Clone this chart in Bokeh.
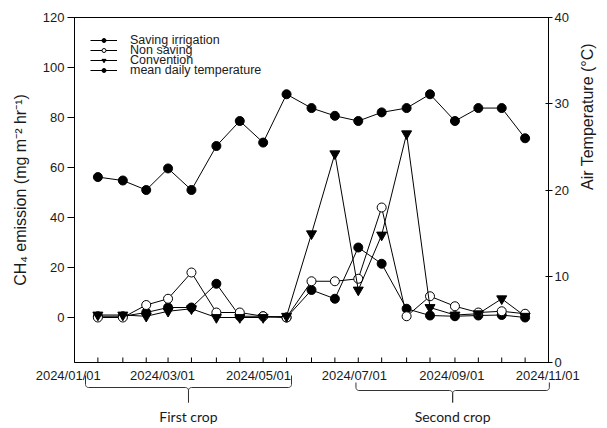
import math
import numpy as np
import pandas as pd
from bokeh.plotting import figure
from bokeh.models import (Range1d, LinearAxis, FixedTicker, Legend, LegendItem)
from bokeh.layouts import column
from bokeh.embed import file_html
from bokeh.resources import INLINE
from bokeh.core.properties import value

# ---------------- data ----------------
sample_dates = ["2024-01-20", "2024-02-05", "2024-02-20", "2024-03-05", "2024-03-20",
                "2024-04-05", "2024-04-20", "2024-05-05", "2024-05-20", "2024-06-05",
                "2024-06-20", "2024-07-05", "2024-07-20", "2024-08-05", "2024-08-20",
                "2024-09-05", "2024-09-20", "2024-10-05", "2024-10-20"]
saving_irrigation = [0.5, 0.5, 2, 4, 4, 13.5, 0.5, 0.5, 0, 11, 7.5, 28, 21.5, 3.5, 0.8, 0.5, 0.8, 1, 0]
non_saving = [0, 0, 5, 7.5, 18, 2, 2, 0.5, 0, 14.5, 14.5, 15.5, 44, 0.5, 8.5, 4.5, 2, 2.5, 1.5]
convention = [1, 1, 0.5, 2.5, 3.5, 0, 0, 0, 0.5, 33.5, 65.5, 11, 33, 73.5, 4, 1, 1.5, 7.5, 0.5]
mean_temperature = [21.5, 21.1, 20.0, 22.5, 20.0, 25.1, 28.0, 25.5, 31.1, 29.5,
                    28.6, 28.0, 29.0, 29.5, 31.1, 28.0, 29.5, 29.5, 26.0]

date_label_dates = ["2024-01-01", "2024-03-01", "2024-05-01", "2024-07-01", "2024-09-01", "2024-11-01"]
date_label_texts = ["2024/01/01", "2024/03/01", "2024/05/01", "2024/07/01", "2024/09/01", "2024/11/01"]

crop_names = ["First crop", "Second crop"]
crop_start = ["2024-01-12", "2024-07-02"]
crop_end = ["2024-05-22", "2024-11-02"]

series_names = ["Saving irrigation", "Non saving", "Convention", "mean daily temperature"]
ch4_ticks = [0, 20, 40, 60, 80, 100, 120]
temp_ticks = [0, 10, 20, 30, 40]

x_start_date = "2024-01-05"
x_end_date = "2024-11-04"


def ms(d):
    return pd.Timestamp(d).value / 1e6


xs = [ms(d) for d in sample_dates]

# ---------------- layout constants ----------------
W = 607
H_MAIN = 370
OVERLAP = 12              # lower panel is pulled up over the main panel's bottom border
H_LOW = 58 + OVERLAP
B_LEFT = 74
B_RIGHT = 55
B_TOP = 17
B_BOTTOM = 8
FONT = "Liberation Sans"
TXT = "#1a1a1a"

x_range = Range1d(ms(x_start_date), ms(x_end_date))
Y0, Y1 = -18, 120

p = figure(width=W, height=H_MAIN, x_range=x_range, y_range=Range1d(Y0, Y1), title=None,
           x_axis_location=None, output_backend="svg", toolbar_location=None,
           min_border_left=B_LEFT, min_border_right=B_RIGHT,
           min_border_top=B_TOP, min_border_bottom=B_BOTTOM)
p.xgrid.visible = False
p.ygrid.visible = False
p.outline_line_color = "black"
p.outline_line_width = 1
p.background_fill_color = "white"
p.border_fill_color = "white"

frame_h = H_MAIN - B_TOP - B_BOTTOM
units_per_px = (Y1 - Y0) / frame_h

# inward tick marks on the bottom edge at every sampling date
p.segment(x0=xs, x1=xs, y0=[Y0] * len(xs), y1=[Y0 + 5 * units_per_px] * len(xs),
          line_color="black", line_width=1)

# left axis
ya = p.yaxis[0]
ya.ticker = FixedTicker(ticks=ch4_ticks)
ya.major_tick_out = 7
ya.major_tick_in = 0
ya.minor_tick_out = 0
ya.minor_tick_in = 0
ya.major_label_standoff = 3
ya.major_label_text_font = FONT
ya.major_label_text_font_size = "13px"
ya.major_label_text_color = TXT
ya.axis_label = "CH\u2084 emission (mg m\u207b\u00b2 hr\u207b\u00b9)"
ya.axis_label_text_font = FONT
ya.axis_label_text_font_style = "normal"
ya.axis_label_text_font_size = "16px"
ya.axis_label_text_color = TXT
ya.axis_label_standoff = 11
ya.axis_line_color = "black"

# right axis (temperature)
p.extra_y_ranges = {"temp": Range1d(0, 40)}
ra = LinearAxis(y_range_name="temp", ticker=FixedTicker(ticks=temp_ticks))
ra.major_tick_out = 4
ra.major_tick_in = 3
ra.minor_tick_out = 0
ra.minor_tick_in = 0
ra.major_label_standoff = 2
ra.major_label_text_font = FONT
ra.major_label_text_font_size = "13px"
ra.major_label_text_color = TXT
ra.axis_label = "Air Temperature (\u00b0C)"
ra.axis_label_text_font = FONT
ra.axis_label_text_font_style = "normal"
ra.axis_label_text_font_size = "16px"
ra.axis_label_text_color = TXT
ra.axis_label_standoff = 16
ra.axis_line_color = "black"
try:
    ra.axis_label_orientation = math.pi / 2
except Exception:
    pass
p.add_layout(ra, "right")

# series
l1 = p.line(xs, saving_irrigation, line_color="black", line_width=1)
s1 = p.scatter(xs, saving_irrigation, marker="circle", size=9, fill_color="black", line_color="black")
l2 = p.line(xs, non_saving, line_color="black", line_width=1)
s2 = p.scatter(xs, non_saving, marker="circle", size=9, fill_color="white", line_color="black", line_width=1)
l3 = p.line(xs, convention, line_color="black", line_width=1)
s3 = p.scatter(xs, convention, marker="inverted_triangle", size=10, fill_color="black", line_color="black")
l4 = p.line(xs, mean_temperature, line_color="black", line_width=1, y_range_name="temp")
s4 = p.scatter(xs, mean_temperature, marker="circle", size=9, fill_color="black", line_color="black",
               y_range_name="temp")

renderer_pairs = [(l1, s1), (l2, s2), (l3, s3), (l4, s4)]
LEG_X = 16           # px from frame left
LEG_Y0 = 315.5       # px from frame bottom (first row's bottom)
LEG_PITCH = 10
for i, (name, (ln, sc)) in enumerate(zip(series_names, renderer_pairs)):
    lg = Legend(items=[LegendItem(label=name, renderers=[ln, sc])],
                location=(LEG_X, LEG_Y0 - LEG_PITCH * i))
    lg.margin = 0
    lg.padding = 0
    lg.spacing = 0
    lg.glyph_width = 27
    lg.glyph_height = 10
    lg.label_height = 10
    lg.label_standoff = 13
    lg.label_text_font = FONT
    lg.label_text_font_size = "12.5px"
    lg.label_text_color = TXT
    lg.background_fill_alpha = 0
    lg.border_line_alpha = 0
    p.add_layout(lg)

# ---------------- lower panel: date labels and crop braces ----------------
frame_w = W - B_LEFT - B_RIGHT
px_per_ms = frame_w / (x_range.end - x_range.start)
low_range = Range1d(x_range.start - B_LEFT / px_per_ms, x_range.end + B_RIGHT / px_per_ms)

q = figure(width=W, height=H_LOW, x_range=low_range, y_range=Range1d(H_LOW, 0), title=None,
           output_backend="svg", toolbar_location=None,
           x_axis_location=None, y_axis_location=None, min_border=0)
q.xgrid.visible = False
q.ygrid.visible = False
q.outline_line_color = None
q.background_fill_alpha = 0
q.border_fill_alpha = 0
for fig in (p, q):
    try:
        fig.frame_align = False
    except Exception:
        pass
try:
    q.margin = (-OVERLAP, 0, 0, 0)
except Exception:
    pass

q.text(x=[ms(d) for d in date_label_dates], y=[5 + OVERLAP] * len(date_label_dates), text=date_label_texts,
       text_font=value(FONT), text_font_size="13px", text_align="center",
       text_baseline="alphabetic", text_color=TXT)

brace_end_y = [5 + OVERLAP, 12 + OVERLAP]
brace_mid_y = [17 + OVERLAP, 20 + OVERLAP]
brace_tip_y = 32 + OVERLAP
text_y = 46 + OVERLAP
R = 3.0

t = np.linspace(0, np.pi / 2, 8)
rx = R / px_per_ms
for i in range(len(crop_names)):
    x0 = ms(crop_start[i]); x1 = ms(crop_end[i]); xm = (x0 + x1) / 2
    ye = brace_end_y[i]; ym = brace_mid_y[i]
    ly = [ye] + list(ym - R + R * np.sin(t)) + list(ym + R - R * np.cos(t)) + [brace_tip_y]
    lx = [x0] + list(x0 + rx - rx * np.cos(t)) + list(xm - rx + rx * np.sin(t)) + [xm]
    rxs = [x1] + list(x1 - rx + rx * np.cos(t)) + list(xm + rx - rx * np.sin(t)) + [xm]
    q.line(lx, ly, line_color="#333333", line_width=1)
    q.line(rxs, ly, line_color="#333333", line_width=1)

q.text(x=[(ms(a) + ms(b)) / 2 for a, b in zip(crop_start, crop_end)], y=[text_y] * len(crop_names),
       text=crop_names, text_font=value("Lato"), text_font_size="14px",
       text_align="center", text_baseline="alphabetic", text_color=TXT)

layout = column(p, q, spacing=0)
open("out.html", "w").write(file_html(layout, INLINE))
